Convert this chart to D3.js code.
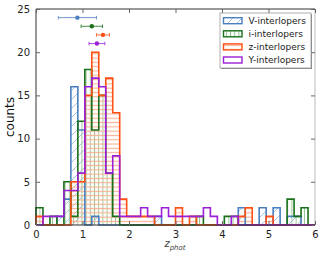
<!DOCTYPE html>
<html><head><meta charset="utf-8">
<script src="https://cdn.jsdelivr.net/npm/d3@7"></script>
<style>body{margin:0;background:#fff}svg{display:block;font-family:"DejaVu Sans",sans-serif}</style>
</head><body><svg id="c" width="322" height="257"></svg>
<script>
// 40 bins of width 0.15 from 0 to 6
const binWidth = 0.15;
const nBins = 40;
const seriesNames = ["V-interlopers","i-interlopers","z-interlopers","Y-interlopers"];
const countsV = [0,0,0,1,3,16,11,0,1,0, 0,0,0,0,0,0,0,1,0,0, 0,0,0,0,0,0,0,0,0,2, 0,0,2,0,2,0,1,1,0,0];
const countsI = [2,0,1,0,5,1,12,18,11,15, 6,1,0,0,0,0,0,0,0,0, 0,0,0,1,0,0,0,1,1,0, 0,0,0,0,0,0,3,1,2,0];
const countsZ = [1,0,0,0,0,5,5,15,20,15, 17,13,3,1,1,1,1,0,0,0, 2,0,1,0,0,0,0,0,0,1, 2,0,0,1,0,0,0,0,0,0];
const countsY = [0,1,1,1,4,4,6,16,17,16, 6,8,1,1,1,2,1,1,2,1, 1,1,1,1,2,1,0,0,1,0, 0,0,0,0,0,0,0,0,0,0];
// error-bar summary points (mean, error, height)
const errMean = [0.89, 1.20, 1.44, 1.31];
const errSize = [0.41, 0.23, 0.14, 0.17];
const errY = [24, 23, 22, 21];
const xTicks = [0,1,2,3,4,5,6];
const yTicks = [0,5,10,15,20,25];

const colors = ["#4a7fbf","#1a701a","#ff5014","#9a1fd6"];
const hatchColors = ["#9dbde0","#8cc08c","#ffab8a",null];

const svg = d3.select("#c");
const x = d3.scaleLinear().domain([0,6]).range([36,315]);
const y = d3.scaleLinear().domain([0,25]).range([225,9]);

const defs = svg.append("defs");
function pattern(id, col, kind){
  const s = kind==="diag"?9:(kind==="vert"?4.2:4.3);
  const p = defs.append("pattern").attr("id",id).attr("patternUnits","userSpaceOnUse")
    .attr("width",s).attr("height",s);
  if(kind==="diag"){
    p.append("path").attr("d",`M0,${s} L${s},0 M${-s/2},${s/2} L${s/2},${-s/2} M${s/2},${s*1.5} L${s*1.5},${s/2}`)
      .attr("stroke",col).attr("stroke-width",1);
  } else if(kind==="vert"){
    p.append("line").attr("x1",s/2).attr("x2",s/2).attr("y1",0).attr("y2",s).attr("stroke",col).attr("stroke-width",1);
  } else {
    p.append("line").attr("y1",s/2).attr("y2",s/2).attr("x1",0).attr("x2",s).attr("stroke",col).attr("stroke-width",1.2);
  }
}
pattern("hV",hatchColors[0],"diag");
pattern("hI",hatchColors[1],"vert");
pattern("hZ",hatchColors[2],"horiz");
const fills = ["url(#hV)","url(#hI)","url(#hZ)","none"];

function stepPath(counts){
  let d = `M${x(0)},${y(0)}`;
  counts.forEach((c,i)=>{
    d += ` L${x(i*binWidth)},${y(c)} L${x((i+1)*binWidth)},${y(c)}`;
  });
  d += ` L${x(nBins*binWidth)},${y(0)}`;
  return d;
}
const allCounts = [countsV,countsI,countsZ,countsY];

const plot = svg.append("g");
// hatched fills
allCounts.forEach((c,k)=>{
  if(fills[k]==="none") return;
  plot.append("path").attr("d",stepPath(c)+" Z").attr("fill",fills[k]).attr("stroke","none").attr("opacity",0.9);
});
// outlines
allCounts.forEach((c,k)=>{
  plot.append("path").attr("d",stepPath(c)).attr("fill","none").attr("stroke",colors[k])
    .attr("stroke-width",1.6).attr("stroke-linejoin","miter");
});

// error bars
errMean.forEach((m,k)=>{
  const g = svg.append("g").attr("stroke",colors[k]);
  const yy = y(errY[k]);
  g.append("line").attr("x1",x(m-errSize[k])).attr("x2",x(m+errSize[k])).attr("y1",yy).attr("y2",yy).attr("stroke-width",0.8);
  [m-errSize[k], m+errSize[k]].forEach(v=>{
    g.append("line").attr("x1",x(v)).attr("x2",x(v)).attr("y1",yy-1.8).attr("y2",yy+1.8).attr("stroke-width",0.8);
  });
  g.append("circle").attr("cx",x(m)).attr("cy",yy).attr("r",2.2).attr("fill",colors[k]).attr("stroke","none");
});

// frame
svg.append("line").attr("x1",36).attr("x2",315).attr("y1",9).attr("y2",9).attr("stroke","#333").attr("stroke-width",1);
svg.append("line").attr("x1",315).attr("x2",315).attr("y1",9).attr("y2",225).attr("stroke","#bbb").attr("stroke-width",1);
svg.append("line").attr("x1",36).attr("x2",36).attr("y1",9).attr("y2",225).attr("stroke","#333").attr("stroke-width",1);
svg.append("line").attr("x1",36).attr("x2",315).attr("y1",225).attr("y2",225).attr("stroke","#333").attr("stroke-width",1);

// axes
const xAx = svg.append("g").attr("transform","translate(0,225)")
  .call(d3.axisBottom(x).tickValues(xTicks).tickFormat(d3.format("d")).tickSizeInner(-4).tickSizeOuter(0).tickPadding(6));
const xAxTop = svg.append("g").attr("transform","translate(0,9)")
  .call(d3.axisTop(x).tickValues(xTicks).tickFormat("").tickSizeInner(-4).tickSizeOuter(0));
const yAx = svg.append("g").attr("transform","translate(36,0)")
  .call(d3.axisLeft(y).tickValues(yTicks).tickFormat(d3.format("d")).tickSizeInner(-4).tickSizeOuter(0).tickPadding(6));
const yAxR = svg.append("g").attr("transform","translate(315,0)")
  .call(d3.axisRight(y).tickValues(yTicks).tickFormat("").tickSizeInner(-4).tickSizeOuter(0));
[xAx,xAxTop,yAx,yAxR].forEach(a=>{
  a.select(".domain").remove();
  a.selectAll("line").attr("stroke","#666");
  a.selectAll("text").attr("font-size",10).attr("fill","#222").attr("font-family","DejaVu Sans");
});

// axis labels
svg.append("text").attr("transform","translate(14,117) rotate(-90)").attr("text-anchor","middle")
  .attr("font-size",12).attr("fill","#111").text("counts");
const xl = svg.append("text").attr("x",175).attr("y",247).attr("text-anchor","middle")
  .attr("font-size",10).attr("font-style","italic").attr("fill","#444");
xl.append("tspan").text("z");
xl.append("tspan").attr("font-size",7).attr("dy",2.5).text("phot");

// legend
const lg = svg.append("g").attr("transform","translate(220,13)");
lg.append("rect").attr("x",1).attr("y",1).attr("width",91).attr("height",55).attr("fill","#888");
lg.append("rect").attr("width",91).attr("height",55).attr("fill","#fff").attr("stroke","#999").attr("stroke-width",0.8);
seriesNames.forEach((n,k)=>{
  const yy = 7.7 + k*13.1;
  lg.append("rect").attr("x",3.5).attr("y",yy-3).attr("width",18.5).attr("height",6)
    .attr("fill",fills[k]==="none"?"#fff":fills[k]).attr("stroke",colors[k]).attr("stroke-width",1.4);
  lg.append("text").attr("x",28.5).attr("y",yy+3.3).attr("font-size",9).attr("fill","#222").text(n);
});
</script></body></html>
